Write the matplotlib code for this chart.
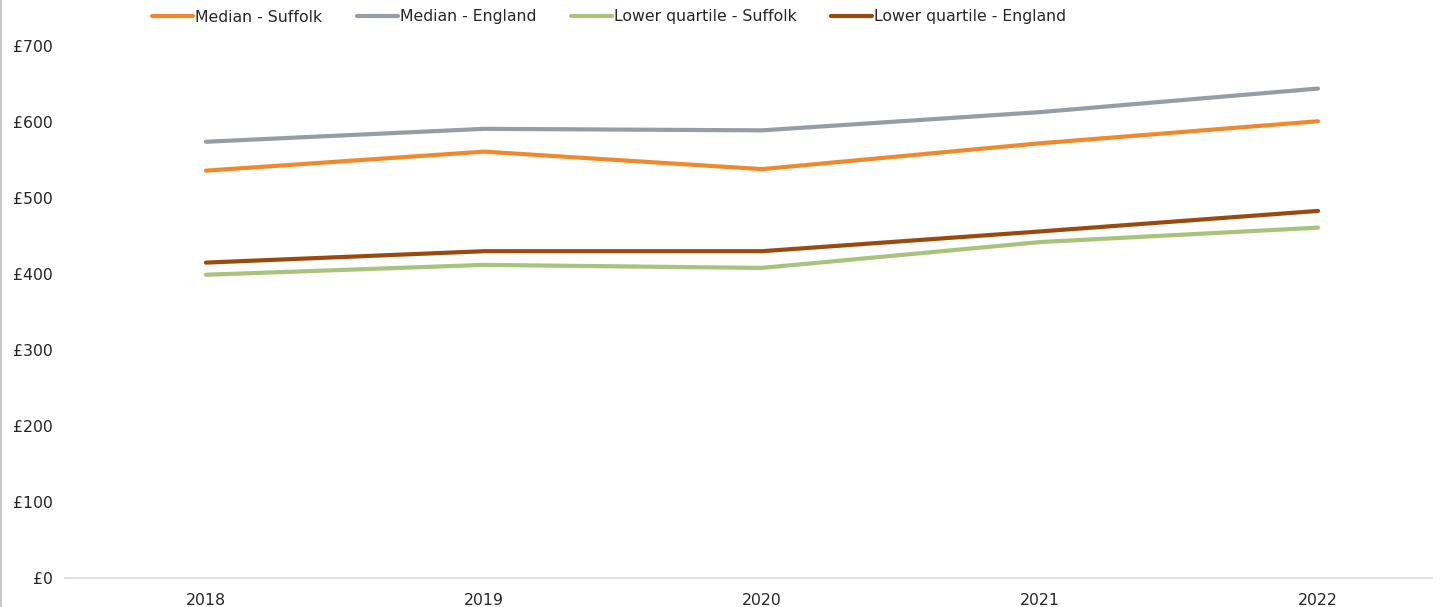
import matplotlib
matplotlib.use("Agg")
import matplotlib.pyplot as plt
from matplotlib.lines import Line2D

years = ["2018", "2019", "2020", "2021", "2022"]
median_suffolk = [536, 561, 538, 572, 601]
median_england = [574, 591, 589, 613, 644]
lower_suffolk = [399, 412, 408, 442, 461]
lower_england = [415, 430, 430, 456, 483]
series_names = ["Median - Suffolk", "Median - England",
                "Lower quartile - Suffolk", "Lower quartile - England"]
colors = ["#F0892B", "#979DA5", "#A8C47C", "#9A4A0F"]
yticks = [0, 100, 200, 300, 400, 500, 600, 700]
ytick_labels = ["£" + str(v) for v in yticks]

plt.rcParams['font.family'] = ['DejaVu Sans']
W, H = 1447, 607
fs = 11.3
fig = plt.figure(figsize=(W / 100, H / 100), dpi=100)
ax = fig.add_axes([65 / W, 1 - 578 / H, (1432 - 65) / W, (578 - 46) / H])

x = list(range(len(years)))
for vals, name, c in zip([median_suffolk, median_england, lower_suffolk, lower_england],
                         series_names, colors):
    ax.plot(x, vals, color=c, lw=3, solid_capstyle='round', label=name)

ax.set_xlim(-0.507, 4.41)
ax.set_ylim(0, 700)
ax.set_yticks(yticks)
ax.set_yticklabels(ytick_labels)
ax.set_xticks(x)
ax.set_xticklabels(years)
ax.tick_params(axis='both', length=0, labelsize=fs, colors='#262626')
ax.tick_params(axis='y', pad=8.5)
ax.tick_params(axis='x', pad=10.5)
for s in ['top', 'right', 'left']:
    ax.spines[s].set_visible(False)
ax.spines['bottom'].set_color('#D9D9D9')
ax.spines['bottom'].set_linewidth(1.2)

handles, labels = ax.get_legend_handles_labels()
leg = fig.legend(handles, labels, loc='center left', bbox_to_anchor=(152 / W, 1 - 17 / H),
                 ncol=4, frameon=False, fontsize=fs, handlelength=2.6, handletextpad=0.15,
                 columnspacing=2.2, borderpad=0, borderaxespad=0)
for t in leg.get_texts():
    t.set_color('#262626')

fig.add_artist(Line2D([0.5 / W, 0.5 / W], [0, 1], color='#BFBFBF', lw=1.2,
                      transform=fig.transFigure))

fig.savefig("out.png", dpi=100)
